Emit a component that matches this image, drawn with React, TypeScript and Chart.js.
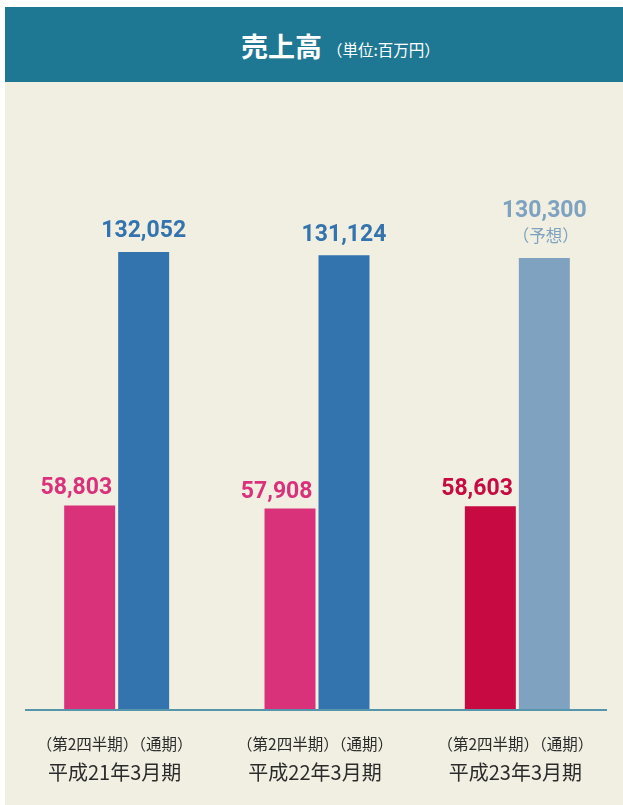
import React, { useEffect, useRef } from "react";
import { Chart, registerables } from "chart.js";

Chart.register(...registerables);

const categories = ["平成21年3月期", "平成22年3月期", "平成23年3月期"];
const periodLabel = "（第2四半期）（通期）";
const halfYearValues = [58803, 57908, 58603];
const fullYearValues = [132052, 131124, 130300];
const halfYearColors = ["#d9327b", "#d9327b", "#c80a42"];
const fullYearColors = ["#3373ae", "#3373ae", "#7ea2bf"];
const forecastNote = ["", "", "（予想）"];
const yMax = 180000;

const fmt = (v: number) => v.toLocaleString("en-US");

const labelPlugin = {
  id: "labels",
  afterDatasetsDraw(chart: any) {
    const ctx = chart.ctx;
    const m0 = chart.getDatasetMeta(0);
    const m1 = chart.getDatasetMeta(1);
    ctx.save();
    // baseline
    ctx.fillStyle = "#5596ad";
    ctx.fillRect(20, chart.chartArea.bottom, 582, 2);
    for (let i = 0; i < categories.length; i++) {
      const b0 = m0.data[i];
      const b1 = m1.data[i];
      ctx.font = "bold 23px Roboto";
      ctx.textBaseline = "alphabetic";
      ctx.fillStyle = halfYearColors[i];
      ctx.textAlign = "right";
      ctx.fillText(fmt(halfYearValues[i]), b0.x + b0.width / 2 - 3, b0.y - 11);
      ctx.fillStyle = fullYearColors[i];
      ctx.textAlign = "center";
      if (forecastNote[i]) {
        ctx.fillText(fmt(fullYearValues[i]), b1.x, b1.y - 41);
        ctx.font = "16.5px 'Noto Sans CJK JP'";
        ctx.fillText(forecastNote[i], b1.x + 1.5, b1.y - 16.5);
      } else {
        ctx.fillText(fmt(fullYearValues[i]), b1.x, b1.y - 14.5);
      }
      const cx = (b0.x + b1.x) / 2 - 2;
      ctx.fillStyle = "#2b2b2b";
      ctx.textBaseline = "middle";
      ctx.font = "15.5px 'Noto Sans CJK JP'";
      ctx.fillText(periodLabel, cx, 662);
      ctx.font = "20px 'Noto Sans CJK JP'";
      ctx.fillText(categories[i], cx, 690.5);
    }
    ctx.restore();
  },
};

export default function App() {
  const ref = useRef<HTMLCanvasElement>(null);
  useEffect(() => {
    if (!ref.current) return;
    const chart = new Chart(ref.current, {
      type: "bar",
      data: {
        labels: categories,
        datasets: [
          {
            label: "第2四半期",
            data: halfYearValues,
            backgroundColor: halfYearColors,
            categoryPercentage: 0.539,
            barPercentage: 0.944,
          },
          {
            label: "通期",
            data: fullYearValues,
            backgroundColor: fullYearColors,
            categoryPercentage: 0.539,
            barPercentage: 0.944,
          },
        ],
      },
      options: {
        responsive: false,
        animation: false,
        devicePixelRatio: 1,
        layout: { padding: { top: 4, bottom: 96, left: 11.5, right: 5.5 } },
        plugins: { legend: { display: false }, tooltip: { enabled: false } },
        scales: {
          x: { display: false, grid: { display: false } },
          y: { display: false, min: 0, max: yMax, grid: { display: false } },
        },
      },
      plugins: [labelPlugin],
    });
    return () => chart.destroy();
  }, []);

  return (
    <div
      style={{
        position: "absolute",
        left: 5,
        top: 7,
        width: 618,
        height: 798,
        background: "#f1eee2",
      }}
    >
      <div
        style={{
          position: "absolute",
          left: 0,
          top: 0,
          width: 618,
          height: 75,
          background: "#1f7893",
          color: "#ffffff",
          fontFamily: "'Noto Sans CJK JP'",
        }}
      >
        <span
          style={{
            position: "absolute",
            left: 236,
            top: 25,
            fontSize: 27,
            lineHeight: "27px",
            fontWeight: 700,
            whiteSpace: "nowrap",
          }}
        >
          売上高
        </span>
        <span
          style={{
            position: "absolute",
            left: 322,
            top: 35,
            fontSize: 15.5,
            lineHeight: "15.5px",
            whiteSpace: "nowrap",
          }}
        >
          （単位:百万円）
        </span>
      </div>
      <canvas
        ref={ref}
        width={618}
        height={723}
        style={{ position: "absolute", left: 0, top: 75, width: 618, height: 723 }}
      />
    </div>
  );
}
